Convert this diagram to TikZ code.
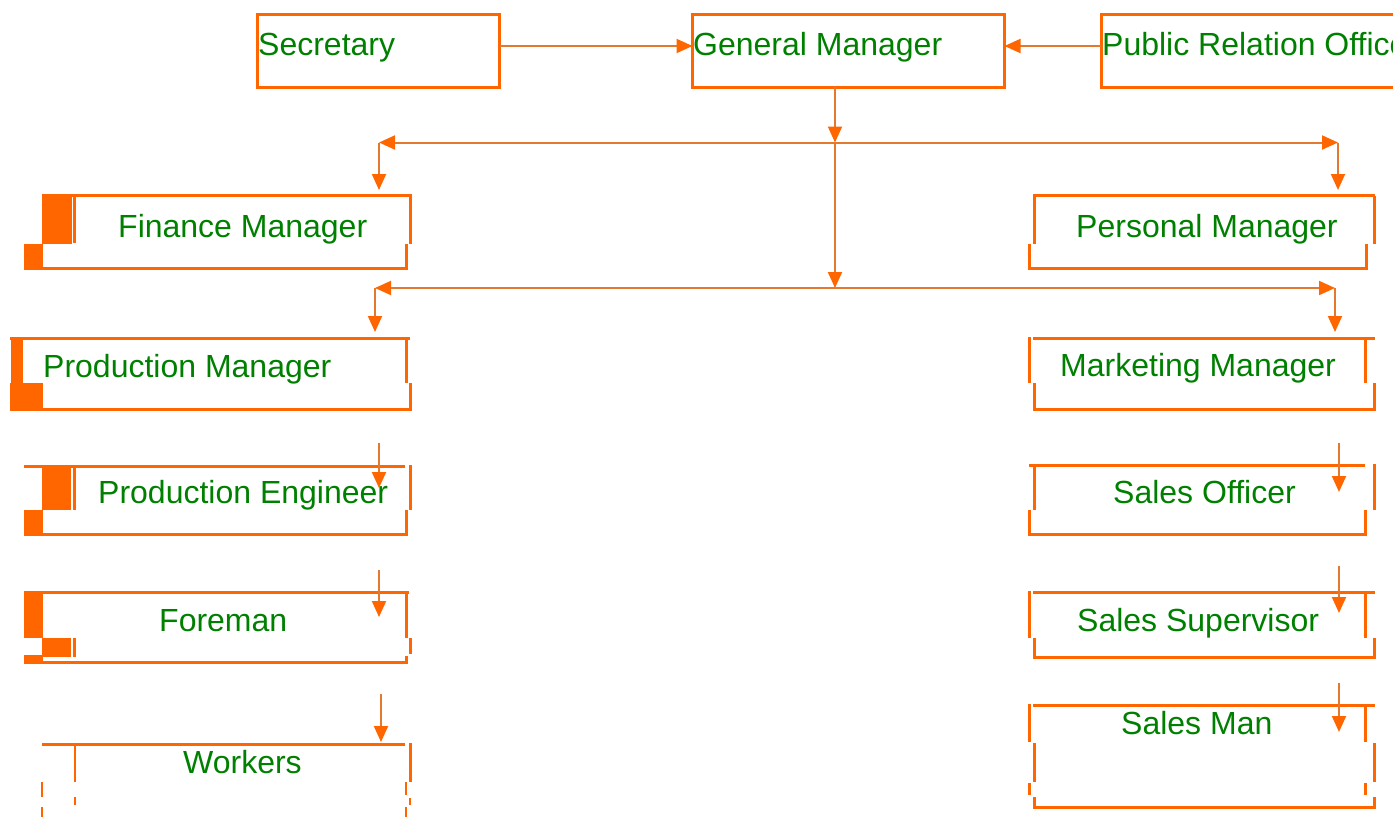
\documentclass[tikz,border=0pt]{standalone}
\usepackage{fontspec}
\setmainfont{Liberation Sans}
\usetikzlibrary{arrows.meta}
\definecolor{boxorange}{HTML}{FF6600}
\definecolor{lineorange}{HTML}{E2792F}
\definecolor{txtgreen}{HTML}{008000}
\begin{document}
\begin{tikzpicture}[x=1pt,y=-1pt,
 bx/.style={draw=boxorange,line width=3pt},
 thin/.style={draw=boxorange,line width=2.2pt},
 blk/.style={fill=boxorange},
 topbox/.style={draw=boxorange,line width=3pt,inner sep=0pt,outer sep=0pt},
 conn/.style={draw=lineorange,line width=2pt,-{Triangle[length=16pt,width=14pt,fill=boxorange,color=boxorange]}},
 lbl/.style={text=txtgreen,font=\fontsize{32}{38}\selectfont,anchor=base west,inner sep=0pt}]
\useasboundingbox (0,0) rectangle (1393,817);
\clip (0,0) rectangle (1393,817);

% ---------- top row ----------
\node[topbox,minimum width=242pt,minimum height=73pt] (sec) at (378.5,50.5) {};
\node[topbox,minimum width=312pt,minimum height=73pt] (gm) at (848.5,50.5) {};
\node[topbox,minimum width=340pt,minimum height=73pt] (pro) at (1271,50.5) {};
\node[lbl] (tsec) at (258,55) {Secretary};
\node[lbl] (tgm) at (693,55) {General Manager};
\node[lbl] (tpro) at (1102,55) {Public Relation Officer};

\coordinate (y46) at (0,46);
\draw[conn] (sec.east |- y46) -- (gm.west |- y46);
\draw[conn] (pro.west |- y46) -- (gm.east |- y46);

% ---------- junctions ----------
\coordinate (gmb) at (835,87);
\coordinate (j1) at (835,142.5);
\coordinate (j1l) at (379,142.5);
\coordinate (j1r) at (1338,142.5);
\coordinate (j2) at (835,288);
\coordinate (j2l) at (375,288);
\coordinate (j2r) at (1335,288);
\coordinate (fmt) at (379,190);
\coordinate (pmt) at (1338,190);
\coordinate (prt) at (375,332);
\coordinate (mkt) at (1335,332);

\draw[conn] (gmb) -- (j1);
\draw[conn] (j1) -- (j2);
\draw[conn] (j1) -- (j1l);
\draw[conn] (j1) -- (j1r);
\draw[conn] (j1l) -- (fmt);
\draw[conn] (j1r) -- (pmt);
\draw[conn] (j2) -- (j2l);
\draw[conn] (j2) -- (j2r);
\draw[conn] (j2l) -- (prt);
\draw[conn] (j2r) -- (mkt);

% ---------- left column boxes ----------
% Finance Manager
\draw[bx] (42,195) -- (410,195) -- (410,244);
\draw[bx] (406,244) -- (406,268) -- (25,268);
\fill[blk] (42,193.5) rectangle (72,244);
\fill[blk] (24,244) rectangle (43,270);
\draw[thin] (74.5,196) -- (74.5,243);
\node[lbl] (tfin) at (118,237) {Finance Manager};

% Production Manager
\draw[bx] (10,338) -- (410,338);
\draw[bx] (406,338) -- (406,383);
\draw[bx] (410,383) -- (410,409) -- (10,409);
\fill[blk] (11,338) rectangle (23,383);
\fill[blk] (10,383) rectangle (43,410.5);
\node[lbl] (tprm) at (43,377) {Production Manager};

% Production Engineer
\draw[bx] (24,466) -- (405,466);
\draw[bx] (410,465) -- (410,510);
\draw[bx] (406,510) -- (406,534) -- (24,534);
\fill[blk] (42,467) rectangle (71,510);
\draw[thin] (74.5,467) -- (74.5,510);
\fill[blk] (24,510) rectangle (43,535.5);
\node[lbl] (tpre) at (98,503) {Production Engineer};

% Foreman
\draw[bx] (24,592) -- (409,592);
\draw[bx] (406,592) -- (406,638);
\draw[bx] (410,638) -- (410,654);
\draw[bx] (406,656) -- (406,662.5) -- (24,662.5);
\fill[blk] (24,591) rectangle (43,638);
\fill[blk] (42,638) rectangle (71,657);
\draw[thin] (74.5,638) -- (74.5,657);
\fill[blk] (24,655) rectangle (43,664);
\node[lbl] (tfor) at (159,631) {Foreman};

% Workers
\draw[bx] (42,744) -- (405,744);
\draw[bx] (410,743) -- (410,782);
\draw[thin] (75,745) -- (75,782);
\draw[thin] (42,782) -- (42,797);
\draw[thin] (42,807) -- (42,817);
\draw[thin] (75,797) -- (75,805);
\draw[thin] (406,782) -- (406,795);
\draw[thin] (406,807) -- (406,817);
\draw[thin] (410,798) -- (410,805);
\node[lbl] (twor) at (183,773) {Workers};

% left chain arrows
\coordinate (la1) at (379,443); \coordinate (lb1) at (379,488);
\coordinate (la2) at (379,570); \coordinate (lb2) at (379,617);
\coordinate (la3) at (381,694); \coordinate (lb3) at (381,742);
\draw[conn] (la1) -- (lb1);
\draw[conn] (la2) -- (lb2);
\draw[conn] (la3) -- (lb3);

% ---------- right column boxes ----------
% Personal Manager
\draw[bx] (1033,195.5) -- (1375,195.5);
\draw[bx] (1034,195.5) -- (1034,244);
\draw[bx] (1374,195.5) -- (1374,244);
\draw[bx] (1029.5,244) -- (1029.5,268.5) -- (1366,268.5) -- (1366,244);
\node[lbl] (tper) at (1076,237) {Personal Manager};

% Marketing Manager
\draw[bx] (1033,338.5) -- (1375,338.5);
\draw[bx] (1029.5,337) -- (1029.5,383);
\draw[bx] (1365.5,338.5) -- (1365.5,383);
\draw[bx] (1034.5,383) -- (1034.5,409) -- (1374.5,409) -- (1374.5,383);
\node[lbl] (tmkt) at (1060,376) {Marketing Manager};

% Sales Officer
\draw[bx] (1029,465.5) -- (1365,465.5);
\draw[bx] (1034.5,465.5) -- (1034.5,510);
\draw[bx] (1374.5,464) -- (1374.5,510);
\draw[bx] (1029.5,510) -- (1029.5,534) -- (1365.5,534) -- (1365.5,510);
\node[lbl] (tso) at (1113,503) {Sales Officer};

% Sales Supervisor
\draw[bx] (1033,592) -- (1375,592);
\draw[bx] (1029.5,591) -- (1029.5,638);
\draw[bx] (1365.5,592) -- (1365.5,638);
\draw[bx] (1034.5,638) -- (1034.5,657) -- (1374.5,657) -- (1374.5,638);
\node[lbl] (tss) at (1077,631) {Sales Supervisor};

% Sales Man
\draw[bx] (1033,705) -- (1375,705);
\draw[bx] (1029.5,704) -- (1029.5,742);
\draw[bx] (1365.5,705) -- (1365.5,742);
\draw[bx] (1034.5,743) -- (1034.5,782);
\draw[bx] (1374.5,743) -- (1374.5,782);
\draw[bx] (1029.5,783) -- (1029.5,795);
\draw[bx] (1365.5,783) -- (1365.5,795);
\draw[bx] (1034.5,797) -- (1034.5,807) -- (1374.5,807) -- (1374.5,797);
\node[lbl] (tsm) at (1121,734) {Sales Man};

% right chain arrows
\coordinate (ra1) at (1339,443); \coordinate (rb1) at (1339,492);
\coordinate (ra2) at (1339,566); \coordinate (rb2) at (1339,613);
\coordinate (ra3) at (1339,683); \coordinate (rb3) at (1339,732);
\draw[conn] (ra1) -- (rb1);
\draw[conn] (ra2) -- (rb2);
\draw[conn] (ra3) -- (rb3);
\end{tikzpicture}
\end{document}
